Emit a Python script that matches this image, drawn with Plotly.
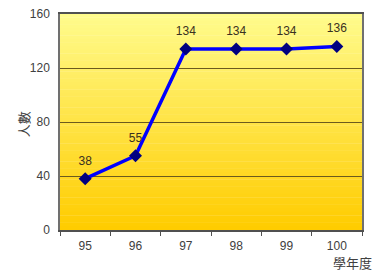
import plotly.graph_objects as go

years = ["95", "96", "97", "98", "99", "100"]
counts = [38, 55, 134, 134, 134, 136]
y_ticks = [0, 40, 80, 120, 160]
x_title = "學年度"
y_title = "人數"

fig = go.Figure()

# gradient background via strips
top = (255, 251, 140)
bot = (255, 204, 0)
n = 60
shapes = []
for i in range(n):
    t = i / (n - 1)
    c = tuple(round(top[k] + (bot[k] - top[k]) * t) for k in range(3))
    shapes.append(dict(type="rect", xref="paper", yref="paper",
                       x0=0, x1=1, y0=1 - (i + 1) / n, y1=1 - i / n + 0.002,
                       fillcolor="rgb(%d,%d,%d)" % c, line=dict(width=0), layer="below"))

fig.add_trace(go.Scatter(
    x=years, y=counts, mode="lines+markers",
    line=dict(color="#0000FF", width=3.5),
    marker=dict(symbol="diamond", size=10, color="#000080"),
    cliponaxis=False, hoverinfo="skip",
))
# value labels (invisible larger markers push the text upward)
fig.add_trace(go.Scatter(
    x=years, y=counts, mode="markers+text",
    text=[str(v) for v in counts], textposition="top center",
    textfont=dict(family="Liberation Sans", size=12, color="#3a3020"),
    marker=dict(size=16, color="rgba(0,0,0,0)"),
    cliponaxis=False, hoverinfo="skip",
))

annotations = [
    dict(text=x_title, xref="paper", yref="paper", x=1.04, y=0, xanchor="right",
         yanchor="top", yshift=-21, showarrow=False,
         font=dict(size=13, color="#404040", family="Noto Sans CJK TC")),
    dict(text=y_title, xref="paper", yref="paper", x=0, y=0.49, xanchor="center",
         yanchor="middle", xshift=-37, textangle=-90, showarrow=False,
         font=dict(size=13, color="#404040", family="Noto Sans CJK TC")),
]

fig.update_layout(
    width=374, height=273,
    margin=dict(l=60, r=12, t=14, b=43, autoexpand=False),
    paper_bgcolor="white",
    plot_bgcolor="rgba(0,0,0,0)",
    shapes=shapes,
    showlegend=False,
    font=dict(family="Liberation Sans", size=12, color="#404040"),
    xaxis=dict(type="category", range=[-0.5, 5.5], showgrid=False, automargin=False,
               showline=True, linecolor="#505050", linewidth=1.5, mirror=True,
               ticks="outside", tickson="boundaries", ticklen=4, tickcolor="#505050",
               ticklabelstandoff=4,
               tickfont=dict(size=12, color="#404040"), zeroline=False),
    yaxis=dict(range=[0, 160], tickvals=y_ticks, showgrid=True, automargin=False,
               gridcolor="#6b5a1e", gridwidth=1.3,
               showline=True, linecolor="#707070", linewidth=1.5, mirror=True,
               ticks="", tickfont=dict(size=12, color="#404040"),
               ticklabelstandoff=6, zeroline=False),
    annotations=annotations,
)

fig.write_html("out.html", config={"displayModeBar": False},
               post_script="document.body.style.margin='0';document.body.style.overflow='hidden';")
